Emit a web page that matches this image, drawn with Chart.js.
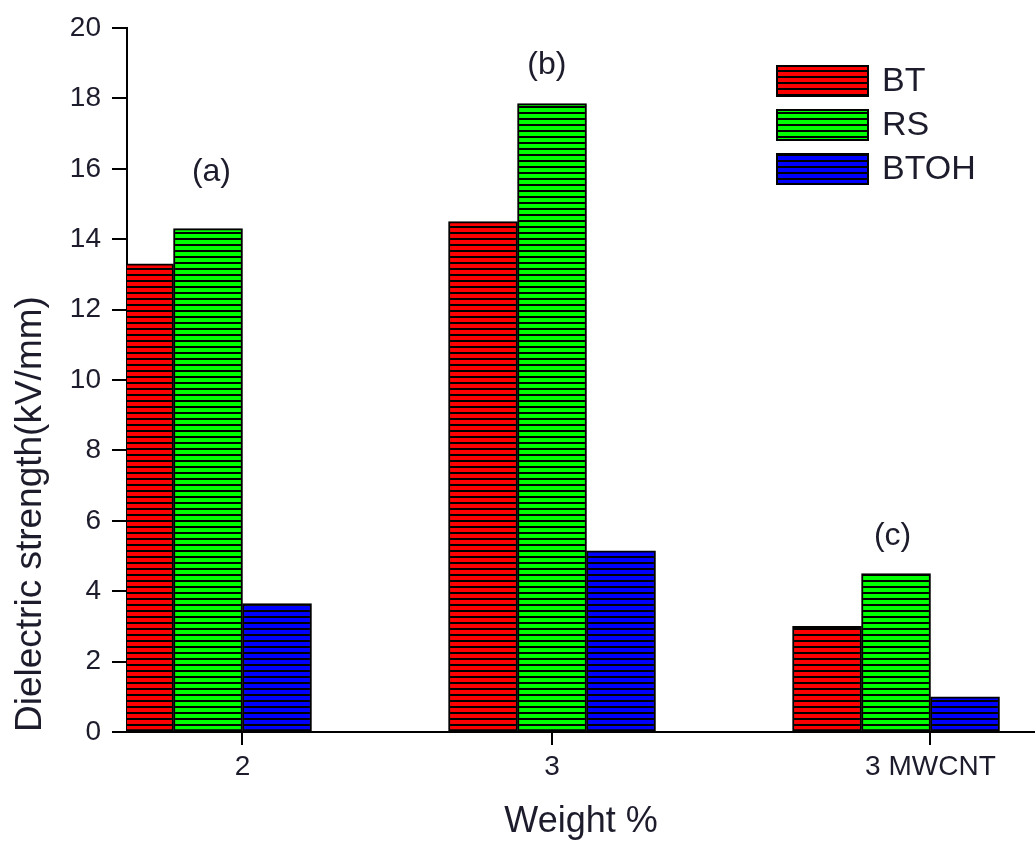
<!DOCTYPE html>
<html lang="en">
<head>
    <meta charset="UTF-8">
    <title>Dielectric strength</title>
    <script src="https://cdn.jsdelivr.net/npm/chart.js"></script>
    <style>
        html, body { margin: 0; padding: 0; background: #fff; }
        #wrap { width: 1035px; height: 841px; }
    </style>
</head>
<body>
    <div id="wrap"><canvas id="chart"></canvas></div>

    <script>
        // data
        const xLabels = ['2', '3', '3 MWCNT'];
        const barX = [1, 2, 3];
        const tickX = [1.1, 2, 3.1];        // tick marks sit a little off the groups in the original
        const btValues = [13.3, 14.5, 3.0];
        const rsValues = [14.3, 17.85, 4.5];
        const btohValues = [3.65, 5.15, 1.0];
        const seriesNames = ['BT', 'RS', 'BTOH'];
        const notes = ['(a)', '(b)', '(c)'];
        const noteX = [1.01, 1.985, 2.99];
        const noteY = [15.9, 18.95, 5.55];

        const textColor = '#1c1c2c';
        const fontFam = '"Liberation Sans", Arial, sans-serif';

        // horizontal hatch: colour with black lines
        function hatch(color) {
            const c = document.createElement('canvas');
            c.width = 8; c.height = 6;
            const g = c.getContext('2d');
            g.fillStyle = color;
            g.fillRect(0, 0, 8, 6);
            g.fillStyle = '#000';
            g.fillRect(0, 4, 8, 2);
            return g.createPattern(c, 'repeat');
        }
        const fills = [hatch('#ff0000'), hatch('#00ff00'), hatch('#0000ff')];

        const toPoints = vals => vals.map((v, i) => ({ x: barX[i], y: v }));

        const annotate = {
            id: 'annotate',
            afterDraw(chart) {
                const ctx = chart.ctx;
                const xs = chart.scales.x, ys = chart.scales.y;
                ctx.save();
                ctx.fillStyle = textColor;
                ctx.font = '32px ' + fontFam;
                ctx.textAlign = 'center';
                ctx.textBaseline = 'middle';
                notes.forEach((t, i) => {
                    ctx.fillText(t, xs.getPixelForValue(noteX[i]), ys.getPixelForValue(noteY[i]));
                });

                // legend, top right
                const lx = 776, ly = 65, bw = 93, bh = 32, gap = 44;
                seriesNames.forEach((name, i) => {
                    const y = ly + i * gap;
                    ctx.fillStyle = fills[i];
                    ctx.fillRect(lx, y, bw, bh);
                    ctx.strokeStyle = '#000';
                    ctx.lineWidth = 2;
                    ctx.strokeRect(lx + 1, y + 1, bw - 2, bh - 2);
                    ctx.fillStyle = textColor;
                    ctx.font = '34px ' + fontFam;
                    ctx.textAlign = 'left';
                    ctx.fillText(name, lx + bw + 13, y + bh / 2 + 1);
                });
                ctx.restore();
            }
        };

        const ds = (label, vals, i) => ({
            label: label,
            data: toPoints(vals),
            backgroundColor: fills[i],
            borderColor: '#000',
            borderWidth: 2,
            borderSkipped: false,
            barThickness: 69,
        });

        new Chart(document.getElementById('chart'), {
            type: 'bar',
            data: {
                datasets: [
                    ds('BT', btValues, 0),
                    ds('RS', rsValues, 1),
                    ds('BTOH', btohValues, 2),
                ],
            },
            options: {
                responsive: true,
                maintainAspectRatio: false,
                animation: false,
                layout: { padding: { top: 28, right: 0, left: 0, bottom: 0 } },
                plugins: {
                    legend: { display: false },
                    tooltip: { enabled: false },
                },
                scales: {
                    x: {
                        type: 'linear',
                        min: 0.7645,
                        max: 3.404,
                        offset: false,
                        afterBuildTicks: s => { s.ticks = tickX.map(v => ({ value: v })); },
                        afterFit: s => { s.height = 109; },
                        grid: { offset: false, drawOnChartArea: false, drawTicks: true, tickLength: 13, color: '#000', lineWidth: 2 },
                        border: { color: '#000', width: 2 },
                        ticks: {
                            callback: (v, i) => xLabels[i],
                            color: textColor,
                            font: { family: fontFam, size: 28 },
                            padding: 5,
                            maxRotation: 0,
                            autoSkip: false,
                        },
                        title: {
                            display: true,
                            text: 'Weight %',
                            color: textColor,
                            font: { family: fontFam, size: 36, lineHeight: 1 },
                            padding: { top: 0, bottom: 1 },
                        },
                    },
                    y: {
                        min: 0,
                        max: 20,
                        afterFit: s => { s.width = 127; },
                        grid: { drawOnChartArea: false, drawTicks: true, tickLength: 15, color: '#000', lineWidth: 2 },
                        border: { color: '#000', width: 2 },
                        ticks: {
                            stepSize: 2,
                            color: textColor,
                            font: { family: fontFam, size: 28 },
                            padding: 11,
                        },
                        title: {
                            display: true,
                            text: 'Dielectric strength(kV/mm)',
                            align: 'start',
                            color: textColor,
                            font: { family: fontFam, size: 37, lineHeight: 1 },
                            padding: { top: 12, bottom: 0 },
                        },
                    },
                },
            },
            plugins: [annotate],
        });
    </script>
</body>
</html>
